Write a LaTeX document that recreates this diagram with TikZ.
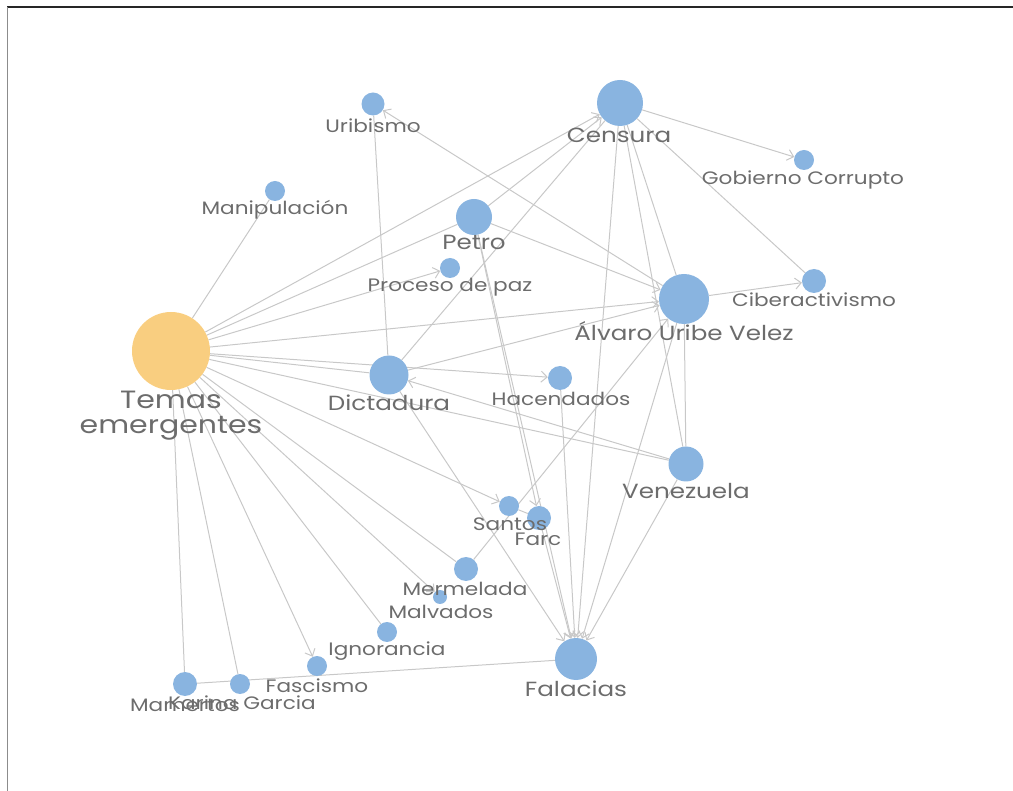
\documentclass[tikz,border=0pt]{standalone}
\usepackage{fontspec}
\setmainfont{Poppins}[FakeStretch=1.2]
\usetikzlibrary{arrows.meta, backgrounds}
\definecolor{topicblue}{RGB}{137,180,224}
\definecolor{hubgold}{RGB}{249,206,128}
\definecolor{linkgrey}{RGB}{200,200,200}
\definecolor{textgrey}{RGB}{108,108,108}

\begin{document}
\begin{tikzpicture}[x=1pt, y=-1pt,
  topic/.style={circle, fill=topicblue, inner sep=0pt, minimum size=#1},
  hub/.style={circle, fill=hubgold, inner sep=0pt, minimum size=#1},
  txt/.style={text=textgrey, inner sep=0pt, anchor=base, font=\fontsize{18}{20}\selectfont},
  txtbig/.style={txt, font=\fontsize{20.5}{23}\selectfont},
  txthub/.style={txt, font=\fontsize{25}{28}\selectfont},
  link/.style={draw=linkgrey, line width=1pt},
  arr/.style={link, -{Straight Barb[length=6pt, width=11pt]}}]
  \useasboundingbox (0,0) rectangle (1013,791);
  % frame
  \draw[black!85, line width=1.2pt] (7,7) -- (1013,7);
  \draw[black!45, line width=1pt] (7,7) -- (7,791);

  % nodes
  \node[hub=78pt] (temas) at (171,351) {};
  \node[topic=23pt] (uribismo) at (373,104) {};
  \node[topic=46pt] (censura) at (620,103) {};
  \node[topic=20pt] (manip) at (275,191) {};
  \node[topic=20pt] (gobierno) at (804,160) {};
  \node[topic=36pt] (petro) at (474,217) {};
  \node[topic=20pt] (paz) at (450,268) {};
  \node[topic=24pt] (ciber) at (814,281) {};
  \node[topic=50pt] (alvaro) at (684,299) {};
  \node[topic=39pt] (dictadura) at (389,375) {};
  \node[topic=24pt] (hacendados) at (560,378) {};
  \node[topic=35pt] (venezuela) at (686,464) {};
  \node[topic=20pt] (santos) at (509,506) {};
  \node[topic=24pt] (farc) at (539,518) {};
  \node[topic=24pt] (mermelada) at (466,569) {};
  \node[topic=14pt] (malvados) at (440,597) {};
  \node[topic=20pt] (ignorancia) at (387,632) {};
  \node[topic=20pt] (fascismo) at (317,666) {};
  \node[topic=20pt] (karina) at (240,684) {};
  \node[topic=24pt] (mamertos) at (185,684) {};
  \node[topic=42pt] (falacias) at (576,659) {};

  % links
  \begin{scope}[on background layer]
    \draw[link] (temas) -- (manip);
    \draw[arr] (temas) -- (censura);
    \draw[link] (temas) -- (petro);
    \draw[arr] (temas) -- (paz);
    \draw[arr] (temas) -- (alvaro);
    \draw[link] (temas) -- (dictadura);
    \draw[arr] (temas) -- (hacendados);
    \draw[link] (temas) -- (venezuela);
    \draw[arr] (temas) -- (santos);
    \draw[link] (temas) -- (mermelada);
    \draw[arr] (temas) -- (malvados);
    \draw[link] (temas) -- (ignorancia);
    \draw[arr] (temas) -- (fascismo);
    \draw[link] (temas) -- (karina);
    \draw[link] (temas) -- (mamertos);
    \draw[link] (uribismo) -- (dictadura);
    \draw[arr] (alvaro) -- (uribismo);
    \draw[arr] (petro) -- (censura);
    \draw[link] (dictadura) -- (censura);
    \draw[arr] (censura) -- (gobierno);
    \draw[link] (censura) -- (ciber);
    \draw[link] (censura) -- (alvaro);
    \draw[link] (censura) -- (venezuela);
    \draw[arr] (censura) -- (falacias);
    \draw[arr] (petro) -- (alvaro);
    \draw[arr] (dictadura) -- (alvaro);
    \draw[arr] (mermelada) -- (alvaro);
    \draw[arr] (alvaro) -- (ciber);
    \draw[link] (alvaro) -- (venezuela);
    \draw[arr] (alvaro) -- (falacias);
    \draw[arr] (venezuela) -- (dictadura);
    \draw[arr] (venezuela) -- (falacias);
    \draw[arr] (petro) -- (farc);
    \draw[arr] (petro) -- (falacias);
    \draw[link] (santos) -- (farc);
    \draw[arr] (hacendados) -- (falacias);
    \draw[arr] (dictadura) -- (falacias);
    \draw[arr] (farc) -- (falacias);
    \draw[link] (mamertos) -- (falacias);
  \end{scope}

  % labels
  \node[txthub] (temasTxtA) at (171,409) {Temas};
  \node[txthub] (temasTxtB) at (171,434) {emergentes};
  \node[txt] (uribismoTxt) at (373,133) {Uribismo};
  \node[txtbig] (censuraTxt) at (619,143) {Censura};
  \node[txt] (manipTxt) at (275,215) {Manipulación};
  \node[txt] (gobiernoTxt) at (803,185) {Gobierno Corrupto};
  \node[txtbig] (petroTxt) at (474,250) {Petro};
  \node[txt] (pazTxt) at (450,292) {Proceso de paz};
  \node[txt] (ciberTxt) at (814,307) {Ciberactivismo};
  \node[txtbig] (alvaroTxt) at (684,341) {Álvaro Uribe Velez};
  \node[txtbig] (dictaduraTxt) at (389,411) {Dictadura};
  \node[txt] (hacendadosTxt) at (561,406) {Hacendados};
  \node[txtbig] (venezuelaTxt) at (686,499) {Venezuela};
  \node[txt] (santosTxt) at (510,531) {Santos};
  \node[txt] (farcTxt) at (538,546) {Farc};
  \node[txt] (mermeladaTxt) at (465,596) {Mermelada};
  \node[txt] (malvadosTxt) at (441,619) {Malvados};
  \node[txt] (ignoranciaTxt) at (387,655) {Ignorancia};
  \node[txt] (fascismoTxt) at (317,692) {Fascismo};
  \node[txt] (karinaTxt) at (242,709) {Karina Garcia};
  \node[txt] (mamertosTxt) at (185,711) {Mamertos};
  \node[txtbig] (falaciasTxt) at (576,696) {Falacias};
\end{tikzpicture}
\end{document}
